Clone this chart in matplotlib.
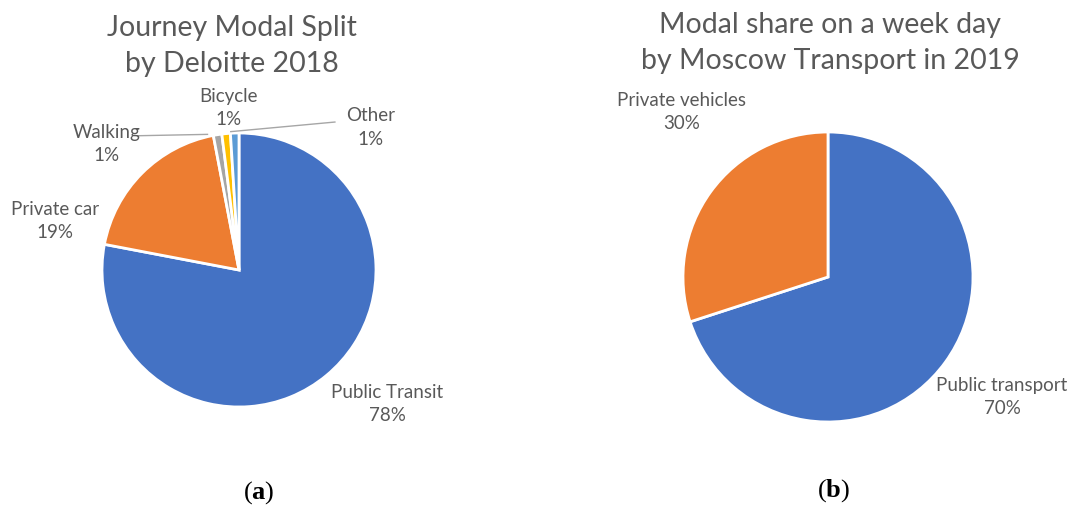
import matplotlib
matplotlib.use("Agg")
import matplotlib.pyplot as plt

plt.rcParams['font.family'] = ['Lato', 'DejaVu Sans']
plt.rcParams['mathtext.fontset'] = 'custom'
plt.rcParams['mathtext.rm'] = 'Liberation Serif'
plt.rcParams['mathtext.bf'] = 'Liberation Serif:bold'

# data
deloitte_labels = ['Public Transit', 'Private car', 'Walking', 'Bicycle', 'Other']
deloitte_shares = [78, 19, 1, 1, 1]
moscow_labels = ['Public transport', 'Private vehicles']
moscow_shares = [70, 30]

# styles / layout
deloitte_colors = ['#4472C4', '#ED7D31', '#A5A5A5', '#FFC000', '#5B9BD5']
moscow_colors = ['#4472C4', '#ED7D31']
deloitte_label_pos = [(1.08, -0.98), (-1.34, 0.36), (-0.97, 0.92), (-0.08, 1.18), (0.96, 1.04)]
moscow_label_pos = [(1.20, -0.83), (-1.01, 1.14)]
txt_color = '#595959'

W, H = 1072, 508
fig = plt.figure(figsize=(W / 100, H / 100), dpi=100)


def pie_axes(cx, cy, r):
    ax = fig.add_axes([(cx - r) / W, (H - cy - r) / H, 2 * r / W, 2 * r / H])
    return ax


def fix_limits(ax):
    ax.set_xlim(-1, 1)
    ax.set_ylim(-1, 1)
    ax.axis('off')


# (a) Deloitte 2018
ax1 = pie_axes(239, 270, 137)
ax1.pie(deloitte_shares, colors=deloitte_colors, startangle=90, counterclock=False,
        radius=1, wedgeprops=dict(edgecolor='white', linewidth=2))
fix_limits(ax1)
for lab, val, (x, y) in zip(deloitte_labels, deloitte_shares, deloitte_label_pos):
    ax1.text(x, y, f'{lab}\n{val}%', ha='center', va='center', fontsize=13.5,
             color=txt_color, linespacing=1.45)
# leader lines for the small slices
ax1.plot([-0.74, -0.23], [0.98, 0.99], color='#A6A6A6', lw=1, clip_on=False)
ax1.plot([0.70, -0.06], [1.08, 1.01], color='#A6A6A6', lw=1, clip_on=False)
fig.text(232 / W, 1 - 46 / H, 'Journey Modal Split\nby Deloitte 2018', ha='center', va='center',
         fontsize=20.5, color=txt_color, linespacing=1.5)

# (b) Moscow Transport 2019
ax2 = pie_axes(828, 277, 145)
ax2.pie(moscow_shares, colors=moscow_colors, startangle=90, counterclock=False,
        radius=1, wedgeprops=dict(edgecolor='white', linewidth=2))
fix_limits(ax2)
for lab, val, (x, y) in zip(moscow_labels, moscow_shares, moscow_label_pos):
    ax2.text(x, y, f'{lab}\n{val}%', ha='center', va='center', fontsize=13.5,
             color=txt_color, linespacing=1.45)
fig.text(830 / W, 1 - 43 / H, 'Modal share on a week day\nby Moscow Transport in 2019', ha='center',
         va='center', fontsize=20.5, color=txt_color, linespacing=1.5)

# captions
fig.text(259 / W, 1 - 493 / H, r'($\mathbf{a}$)', ha='center', va='center', fontsize=19,
         family='Liberation Serif', color='black')
fig.text(834 / W, 1 - 491 / H, r'($\mathbf{b}$)', ha='center', va='center', fontsize=19,
         family='Liberation Serif', color='black')

fig.savefig('out.png', dpi=100, facecolor='white')
